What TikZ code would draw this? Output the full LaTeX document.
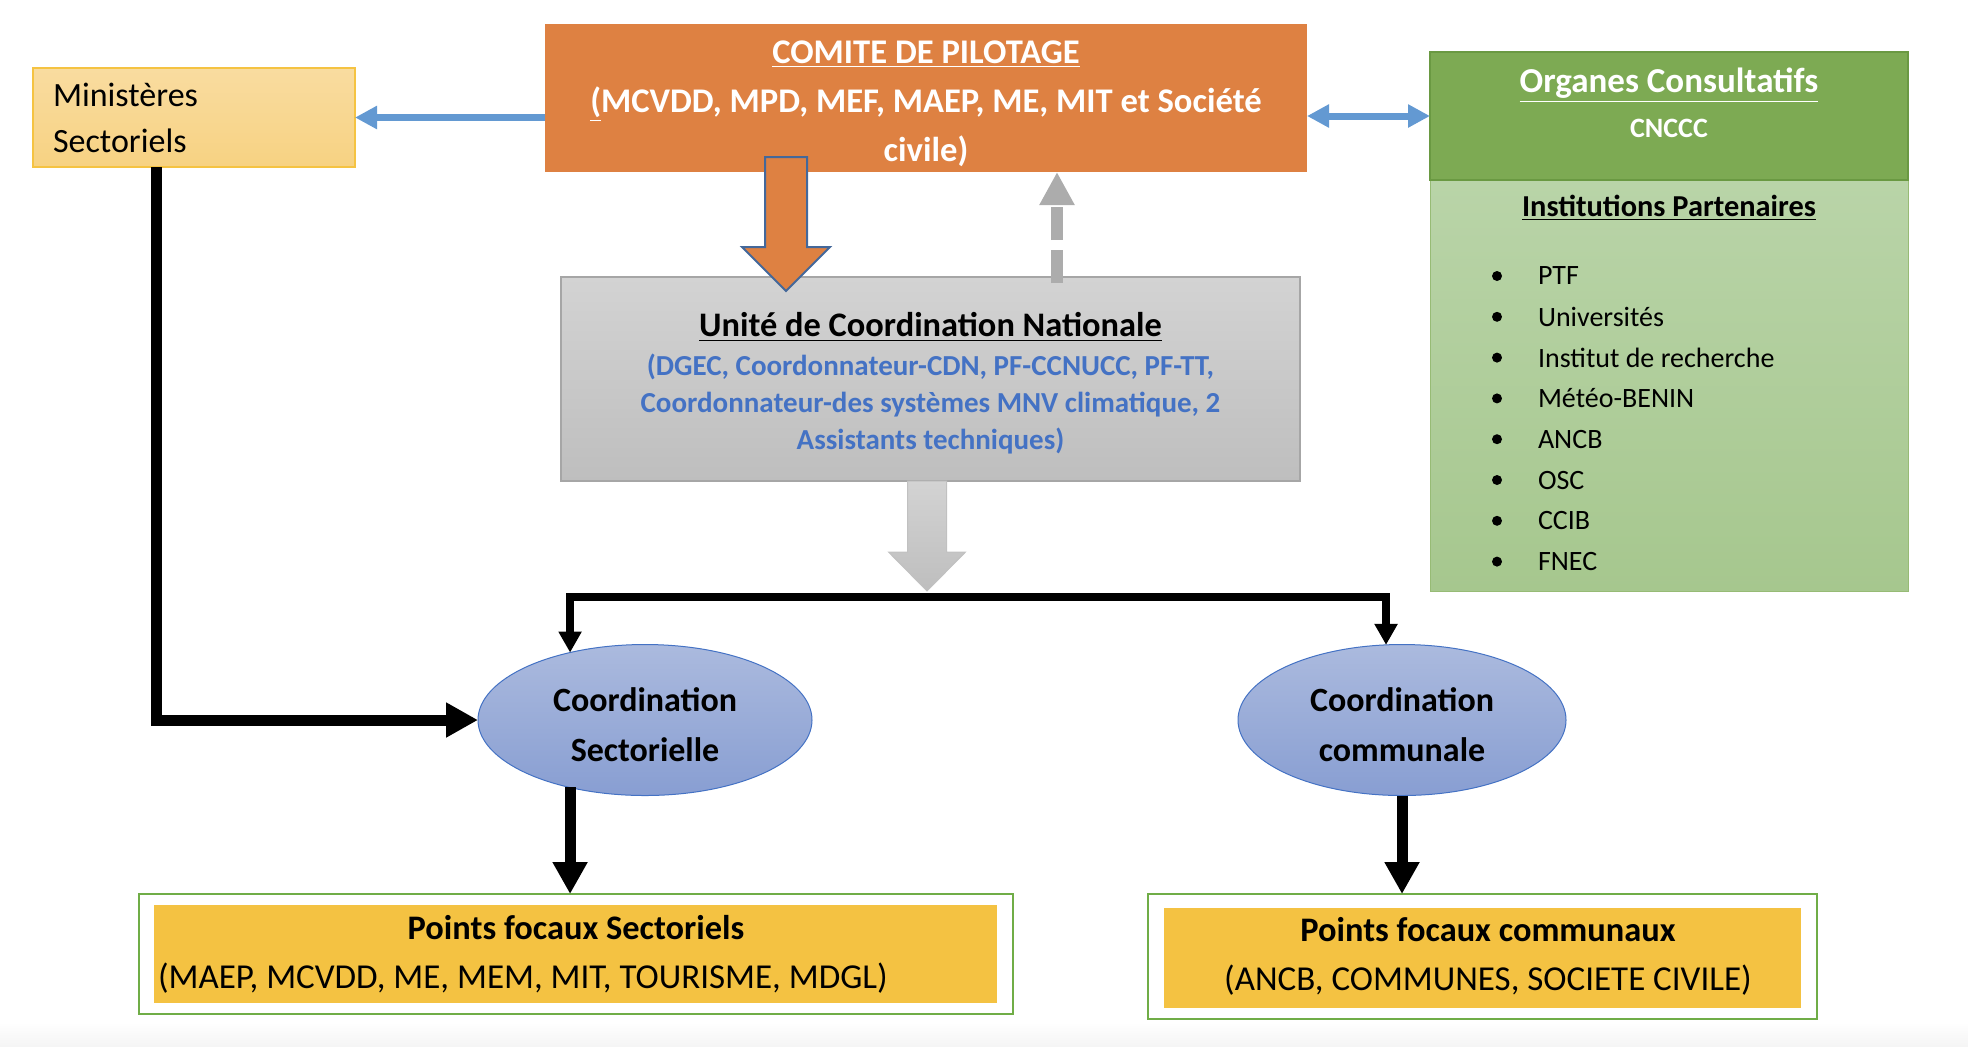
\documentclass[tikz,border=0pt]{standalone}
\usepackage{fontspec}
\setmainfont{Carlito}
\usepackage{tikz}
\usetikzlibrary{arrows.meta, positioning, shapes.geometric, calc}

\definecolor{comiteorange}{RGB}{222,129,66}
\definecolor{ministop}{RGB}{249,220,160}
\definecolor{minisbot}{RGB}{247,210,130}
\definecolor{ministborder}{RGB}{245,195,66}
\definecolor{linkblue}{RGB}{99,153,210}
\definecolor{unctop}{RGB}{211,211,211}
\definecolor{uncbot}{RGB}{190,190,190}
\definecolor{uncborder}{RGB}{166,166,166}
\definecolor{unctext}{RGB}{68,114,196}
\definecolor{greendark}{RGB}{125,170,83}
\definecolor{greenborder}{RGB}{106,153,66}
\definecolor{greenlighttop}{RGB}{185,212,168}
\definecolor{greenlightbot}{RGB}{166,199,142}
\definecolor{elltop}{RGB}{171,186,222}
\definecolor{ellbot}{RGB}{136,158,210}
\definecolor{ellborder}{RGB}{68,114,196}
\definecolor{focalyellow}{RGB}{244,194,66}
\definecolor{focalborder}{RGB}{112,173,71}
\definecolor{arrowborder}{RGB}{68,104,154}
\definecolor{dashgray}{RGB}{172,172,172}

\begin{document}
\begin{tikzpicture}[x=0.5pt, y=-0.5pt, >=Latex,
    every node/.style={inner sep=0pt, outer sep=0pt},
    boxsize/.style 2 args={minimum width=#1, minimum height=#2},
    ministbox/.style={rectangle, draw=ministborder, line width=0.75pt, top color=ministop, bottom color=minisbot,
      align=left, text width=141pt, font=\fontsize{17}{23}\selectfont},
    comitebox/.style={rectangle, fill=comiteorange},
    uncbox/.style={rectangle, draw=uncborder, line width=0.75pt, top color=unctop, bottom color=uncbot},
    greenhead/.style={rectangle, draw=greenborder, line width=0.75pt, fill=greendark},
    greenbody/.style={rectangle, draw=greendark!80, line width=0.5pt, top color=greenlighttop, bottom color=greenlightbot},
    coordell/.style={ellipse, draw=ellborder, line width=0.5pt, top color=elltop, bottom color=ellbot},
    ellfont/.style={align=center, font=\bfseries\fontsize{17}{25}\selectfont},
    focalframe/.style={rectangle, draw=focalborder, line width=1pt, fill=white},
    focalfill/.style={rectangle, fill=focalyellow},
    titlefont/.style={font=\bfseries\fontsize{17.2}{22}\selectfont},
    listfont/.style={font=\fontsize{17.5}{22}\selectfont},
    instlabel/.style={font=\fontsize{14}{18}\selectfont},
    bulletdot/.style={circle, fill=black, minimum size=5pt},
    bluelink/.style={draw=linkblue, line width=3.5pt, -{Triangle[length=11pt,width=11pt]}},
    bidilink/.style={draw=linkblue, line width=3.5pt, {Triangle[length=11pt,width=11pt]}-{Triangle[length=11pt,width=11pt]}},
    heavy/.style={draw=black, line width=5.5pt, -{Triangle[length=16pt,width=16.5pt]}},
    branch/.style={draw=black, line width=4pt, -{Triangle[length=10.5pt,width=11pt]}},
    dasharrow/.style={draw=dashgray, line width=6pt, dash pattern=on 16.5pt off 5pt, -{Triangle[length=16.5pt,width=16.5pt]}},
    blockorange/.style={draw=arrowborder, line width=1pt, fill=comiteorange},
    blockgray/.style={draw=uncborder!70, line width=0.5pt, top color=unctop, bottom color=uncbot}]

    \useasboundingbox (0,0) rectangle (1968,1046);
    \shade[top color=white, bottom color=gray!8] (0,1022) rectangle (1968,1046);

    % Top row
    \node[ministbox, boxsize={161pt}{49.5pt}] (mini) at (194,117.5) {Ministères\\Sectoriels};
    \node[comitebox, boxsize={381pt}{74pt}] (comite) at (926,98) {};
    \node[text=white, align=center, font=\bfseries\fontsize{17.3}{24.5}\selectfont] (comitetext) at (926,104)
      {\underline{COMITE DE PILOTAGE}\\\underline{(}MCVDD, MPD, MEF, MAEP, ME, MIT et Société\\civile)};

    % Organes consultatifs and partners
    \node[greenbody, boxsize={239pt}{205.5pt}] (partbox) at (1669,385.5) {};
    \node[greenhead, boxsize={239pt}{64pt}] (orghead) at (1669,116) {};
    \node[text=white, font=\bfseries\fontsize{17.5}{22}\selectfont] (orgtitle) at (1669,85) {\underline{Organes Consultatifs}};
    \node[text=white, font=\bfseries\fontsize{14}{18}\selectfont] (orgsub) at (1669,128) {CNCCC};
    \node[font=\bfseries\fontsize{15.2}{20}\selectfont] (parttitle) at (1669,208) {\underline{Institutions Partenaires}};
    \foreach \inst [count=\i] in {PTF, Universités, Institut de recherche, Météo-BENIN, ANCB, OSC, CCIB, FNEC}{
      \node[bulletdot] (dot\i) at (1497,{235.2+40.8*\i}) {};
      \node[instlabel, anchor=west] (inst\i) at (1538,{235.2+40.8*\i}) {\inst};
    }

    % Unite de coordination nationale
    \node[uncbox, boxsize={369.5pt}{102pt}] (unc) at (930.5,379) {};
    \node[titlefont] (unctitle) at (930.5,327) {\underline{Unité de Coordination Nationale}};
    \node[text=unctext, align=center, font=\bfseries\fontsize{14.5}{18.5}\selectfont] (uncbody) at (930.5,404)
      {(DGEC, Coordonnateur-CDN, PF-CCNUCC, PF-TT,\\Coordonnateur-des systèmes MNV climatique, 2\\Assistants techniques)};

    % Block arrows
    \coordinate (otip) at (786,291);
    \draw[blockorange] (otip) -- ++(44,-44) -- ++(-23,0) -- ++(0,-90) -- ++(-42,0) -- ++(0,90) -- ++(-23,0) -- cycle;
    \coordinate (gtip) at (927,591);
    \draw[blockgray] (gtip) -- ++(38.5,-39) -- ++(-19,0) -- ++(0,-71) -- ++(-39,0) -- ++(0,71) -- ++(-19,0) -- cycle;
    \draw[dasharrow] ($(unc.north)+(126.5,6)$) -- ($(comite.south)+(131,0)$);

    % Coordinations
    \node[coordell, boxsize={167pt}{75.5pt}] (secto) at (645,720) {};
    \node[ellfont] (sectotext) at (645,725) {Coordination\\Sectorielle};
    \node[coordell, boxsize={164pt}{75.5pt}] (comm) at (1402,720) {};
    \node[ellfont] (commtext) at (1402,725) {Coordination\\communale};

    % Points focaux
    \node[focalframe, boxsize={437pt}{60pt}] (pfsout) at (576,954) {};
    \node[focalfill, boxsize={421.5pt}{49pt}] (pfs) at (575.5,954) {};
    \node[titlefont] (pfstitle) at (576,928) {Points focaux Sectoriels};
    \node[listfont, anchor=west] (pfslist) at (158,978) {(MAEP, MCVDD, ME, MEM, MIT, TOURISME, MDGL)};
    \node[focalframe, boxsize={334.5pt}{62.5pt}] (pcomout) at (1482.5,956.5) {};
    \node[focalfill, boxsize={318.5pt}{50pt}] (pcom) at (1482.5,958) {};
    \node[titlefont] (pcomtitle) at (1488,930) {Points focaux communaux};
    \node[listfont] (pcomlist) at (1488,980) {(ANCB, COMMUNES, SOCIETE CIVILE)};

    % Links
    \draw[bluelink] (comite.west |- mini.east) -- (mini.east);
    \draw[bidilink] (comite.east |- orghead.west) -- (orghead.west);
    \draw[heavy] ($(mini.south)+(-38,0)$) |- (secto.west);
    \coordinate (split) at (927,597);
    \draw[branch] (split) -| (secto.138);
    \draw[branch] (split) -| (comm.102);
    \draw[heavy] (secto.222) -- (secto.222 |- pfsout.north);
    \draw[heavy] (comm.south) -- (comm.south |- pcomout.north);

\end{tikzpicture}
\end{document}
